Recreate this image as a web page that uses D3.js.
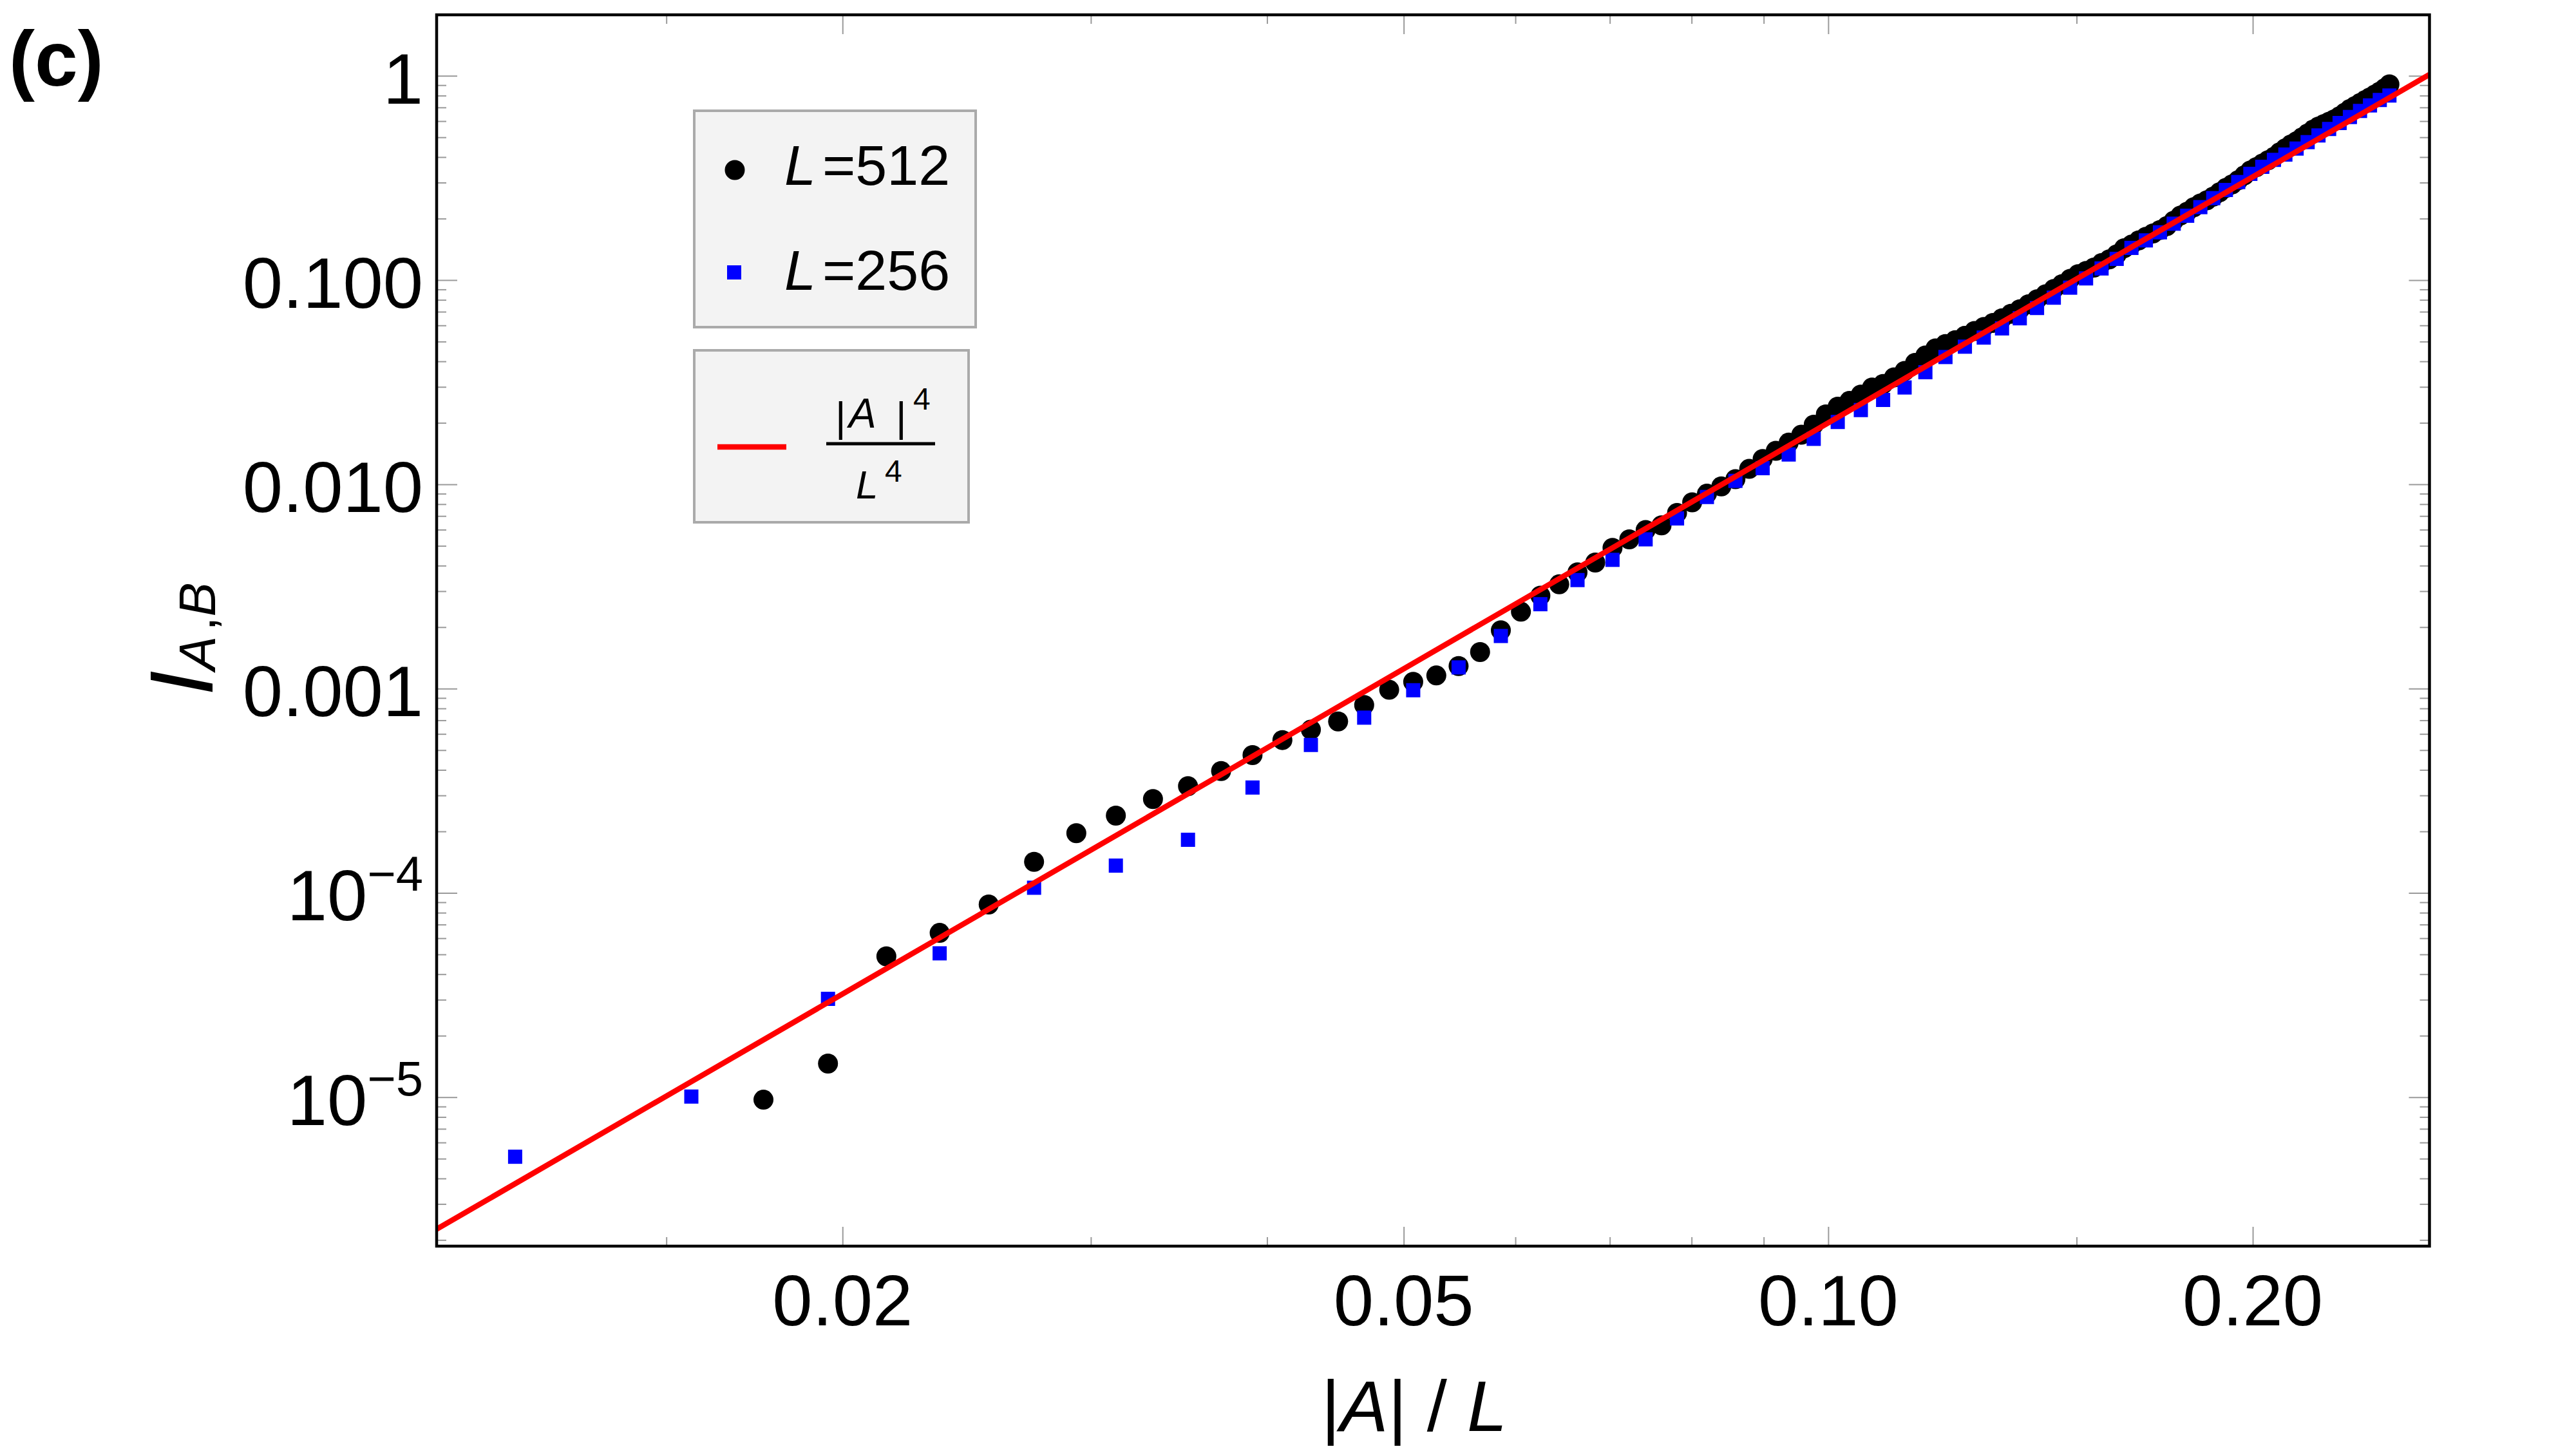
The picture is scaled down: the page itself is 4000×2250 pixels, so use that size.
<!DOCTYPE html>
<html>
<head>
<meta charset="utf-8">
<script src="https://cdn.jsdelivr.net/npm/d3@7"></script>
<style>
  html, body { margin: 0; padding: 0; background: #fff; }
  svg { display: block; font-family: "Liberation Sans", Arial, Helvetica, sans-serif; }
</style>
</head>
<body>
<svg id="chart" width="4000" height="2250"></svg>
<script>
// ---- data ----
const L512 = 512;
const L256 = 256;

// subsystem sizes |A| for L=512 and the measured I_{A,B}
const sizes512 = [9,10,11,12,13,14,15,16,17,18,19,20,21,22,23,24,25,26,27,28,29,30,31,32,33,34,35,36,37,38,
  39,40,41,42,43,44,45,46,47,48,49,50,51,52,53,54,55,56,57,58,59,60,61,62,63,64,65,66,67,68,
  69,70,71,72,73,74,75,76,77,78,79,80,81,82,83,84,85,86,87,88,89,90,91,92,93,94,95,96,97,98,
  99,100,101,102,103,104,105,106,107,108,109,110,111,112,113,114,115,116,117,118,119,120,121,122,123,124,125,126,127,128];
const vals512 = [9.72e-6,1.46e-5,4.89e-5,6.37e-5,8.77e-5,1.42e-4,1.96e-4,2.39e-4,2.88e-4,3.33e-4,
  3.95e-4,4.73e-4,5.60e-4,6.30e-4,6.91e-4,8.31e-4,9.87e-4,1.08e-3,1.16e-3,1.29e-3,
  1.51e-3,1.93e-3,2.38e-3,2.85e-3,3.24e-3,3.71e-3,4.14e-3,4.89e-3,5.38e-3,5.98e-3,
  6.30e-3,7.25e-3,8.17e-3,9.00e-3,9.77e-3,0.0106,0.0119,0.0133,0.0146,0.0160,
  0.0175,0.0196,0.0220,0.0240,0.0256,0.0275,0.0298,0.0310,0.0334,0.0359,
  0.0393,0.0427,0.0463,0.0486,0.0508,0.0533,0.0563,0.0589,0.0617,0.0650,
  0.0684,0.0719,0.0761,0.0805,0.0851,0.0905,0.0955,0.1014,0.1068,0.1109,
  0.1151,0.1210,0.1262,0.1336,0.1432,0.1491,0.1563,0.1627,0.1692,0.1758,
  0.1839,0.1952,0.2070,0.2162,0.2273,0.2372,0.2458,0.2563,0.2690,0.2824,
  0.2941,0.3085,0.3256,0.3437,0.3574,0.3715,0.3860,0.4009,0.4223,0.4415,
  0.4614,0.4785,0.4997,0.5221,0.5448,0.5643,0.5803,0.5960,0.6125,0.6337,
  0.6601,0.6880,0.7112,0.7350,0.7594,0.7844,0.8100,0.8363,0.8692,0.9078];

// subsystem sizes |A| for L=256
const sizes256 = [3,4,5,6,7,8,9,10,11,12,13,14,15,16,17,18,19,20,21,22,23,24,25,26,27,28,29,30,31,32,
  33,34,35,36,37,38,39,40,41,42,43,44,45,46,47,48,49,50,51,52,53,54,55,56,57,58,59,60,61,62,63,64];
const vals256 = [5.11e-6,1.007e-5,3.03e-5,5.06e-5,1.06e-4,1.36e-4,1.82e-4,3.28e-4,5.30e-4,7.21e-4,
  9.82e-4,1.27e-3,1.81e-3,2.59e-3,3.40e-3,4.27e-3,5.38e-3,6.81e-3,8.67e-3,0.0104,
  0.0120,0.0140,0.0167,0.0202,0.0231,0.0259,0.0298,0.0354,0.0420,0.0472,
  0.0523,0.0580,0.0650,0.0730,0.0820,0.0918,0.1019,0.1140,0.1270,0.1437,
  0.1564,0.1713,0.1888,0.2065,0.2275,0.2518,0.2761,0.3019,0.3311,0.3585,
  0.3876,0.4115,0.4403,0.4734,0.5105,0.5491,0.5873,0.6284,0.6728,0.7161,
  0.7613,0.8007];

// red reference line  y = c * (|A|/L)^4
const fitPrefactor = 200;

// ticks
const xMajor = [0.02, 0.05, 0.1, 0.2];
const xMajorLabels = ["0.02", "0.05", "0.10", "0.20"];
const xMinor = [0.015, 0.03, 0.04, 0.06, 0.07, 0.08, 0.09, 0.15];
const yMajor = [1, 0.1, 0.01, 0.001, 1e-4, 1e-5];
const yMajorLabels = ["1", "0.100", "0.010", "0.001", "10^-4", "10^-5"];

// ---- layout ----
const svg = d3.select("#chart");
const pLeft = 678, pRight = 3772.5, pTop = 23, pBottom = 1935;
const fontMain = 112;

const x = d3.scaleLog().domain([0.010309, 0.2669]).range([pLeft, pRight]);
const y = d3.scaleLog().domain([1.8655e-6, 1.9883]).range([pBottom, pTop]);

const pts512 = sizes512.map((a, i) => ({ x: a / L512, y: vals512[i] }));
const pts256 = sizes256.map((a, i) => ({ x: a / L256, y: vals256[i] }));

svg.append("defs").append("clipPath").attr("id", "plotClip")
  .append("rect").attr("x", pLeft).attr("y", pTop)
  .attr("width", pRight - pLeft).attr("height", pBottom - pTop);

// ---- ticks (all four sides, pointing inwards) ----
const yMinor = y.ticks().filter(v => !yMajor.some(m => Math.abs(m - v) / m < 1e-6));

function tickGroup(axis, transform, values, size) {
  const g = svg.append("g").attr("transform", transform)
    .call(axis.tickValues(values).tickSizeInner(-size).tickSizeOuter(0).tickFormat(""));
  g.select(".domain").remove();
  g.selectAll(".tick line").attr("stroke", "#9a9a9a").attr("stroke-width", 2);
}
tickGroup(d3.axisBottom(x), `translate(0,${pBottom})`, xMajor, 30);
tickGroup(d3.axisBottom(x), `translate(0,${pBottom})`, xMinor, 14);
tickGroup(d3.axisTop(x), `translate(0,${pTop})`, xMajor, 30);
tickGroup(d3.axisTop(x), `translate(0,${pTop})`, xMinor, 14);
tickGroup(d3.axisLeft(y), `translate(${pLeft},0)`, yMajor, 32);
tickGroup(d3.axisLeft(y), `translate(${pLeft},0)`, yMinor, 15);
tickGroup(d3.axisRight(y), `translate(${pRight},0)`, yMajor, 32);
tickGroup(d3.axisRight(y), `translate(${pRight},0)`, yMinor, 15);

// ---- data marks ----
const plot = svg.append("g").attr("clip-path", "url(#plotClip)");

plot.append("g").selectAll("circle")
  .data(pts512).enter().append("circle")
  .attr("cx", d => x(d.x)).attr("cy", d => y(d.y))
  .attr("r", 15.5).attr("fill", "#000");

const sq = 22;
plot.append("g").selectAll("rect")
  .data(pts256).enter().append("rect")
  .attr("x", d => x(d.x) - sq / 2).attr("y", d => y(d.y) - sq / 2)
  .attr("width", sq).attr("height", sq).attr("fill", "#0000ff");

const lineData = x.domain().map(v => ({ x: v, y: fitPrefactor * Math.pow(v, 4) }));
plot.append("path")
  .datum(lineData)
  .attr("d", d3.line().x(d => x(d.x)).y(d => y(d.y)))
  .attr("fill", "none").attr("stroke", "#ff0000").attr("stroke-width", 8.5);

// frame
svg.append("rect")
  .attr("x", pLeft).attr("y", pTop).attr("width", pRight - pLeft).attr("height", pBottom - pTop)
  .attr("fill", "none").attr("stroke", "#000").attr("stroke-width", 4.5);

// ---- tick labels ----
svg.append("g").selectAll("text")
  .data(xMajor).enter().append("text")
  .attr("x", d => x(d)).attr("y", 2058)
  .attr("text-anchor", "middle").attr("font-size", fontMain)
  .text((d, i) => xMajorLabels[i]);

const yl = svg.append("g").selectAll("text")
  .data(yMajor).enter().append("text")
  .attr("x", 657).attr("y", d => y(d) + 43)
  .attr("text-anchor", "end").attr("font-size", fontMain);
yl.each(function (d, i) {
  const lab = yMajorLabels[i];
  const t = d3.select(this);
  if (lab.includes("^")) {
    const [base, ex] = lab.split("^");
    t.append("tspan").text(base);
    t.append("tspan").attr("dy", -46).attr("font-size", 76).text(ex.replace("-", "\u2212"));
  } else {
    t.text(lab);
  }
});

// ---- axis titles ----
const xt = svg.append("text")
  .attr("x", 2196).attr("y", 2222)
  .attr("text-anchor", "middle").attr("font-size", fontMain);
xt.append("tspan").text("|");
xt.append("tspan").attr("font-style", "italic").text("A");
xt.append("tspan").text("| / ");
xt.append("tspan").attr("font-style", "italic").text("L");

const yt = svg.append("text")
  .attr("transform", "translate(330,992) rotate(-90)")
  .attr("text-anchor", "middle");
yt.append("tspan").attr("font-size", 140).attr("font-style", "italic").text("I");
yt.append("tspan").attr("font-size", 80).attr("font-style", "italic").attr("dy", 4).text("A");
yt.append("tspan").attr("font-size", 80).attr("dx", 8).text(",");
yt.append("tspan").attr("font-size", 80).attr("font-style", "italic").text("B");

// panel tag
svg.append("text").attr("x", 14).attr("y", 133)
  .attr("font-size", 120).attr("font-weight", "bold").text("(c)");

// ---- legends ----
const leg = svg.append("g");
leg.append("rect").attr("x", 1078).attr("y", 172).attr("width", 437).attr("height", 336)
  .attr("fill", "#f3f3f3").attr("stroke", "#aaaaaa").attr("stroke-width", 4);
leg.append("rect").attr("x", 1078).attr("y", 544).attr("width", 426).attr("height", 267)
  .attr("fill", "#f3f3f3").attr("stroke", "#aaaaaa").attr("stroke-width", 4);

leg.append("circle").attr("cx", 1141).attr("cy", 264).attr("r", 15.5).attr("fill", "#000");
leg.append("rect").attr("x", 1129).attr("y", 412).attr("width", sq).attr("height", sq).attr("fill", "#0000ff");

[[L512, 287], [L256, 450]].forEach(([lv, by]) => {
  const t = leg.append("text").attr("x", 1218).attr("y", by).attr("font-size", 88);
  t.append("tspan").attr("font-style", "italic").text("L");
  t.append("tspan").attr("dx", 10).text("=" + lv);
});

leg.append("line").attr("x1", 1114).attr("x2", 1221).attr("y1", 694).attr("y2", 694)
  .attr("stroke", "#ff0000").attr("stroke-width", 8.5);

// fraction |A|^4 / L^4
leg.append("text").attr("x", 1297).attr("y", 670).attr("font-size", 64).text("|");
leg.append("text").attr("x", 1318).attr("y", 664).attr("font-size", 64).attr("font-style", "italic").text("A");
leg.append("text").attr("x", 1391).attr("y", 670).attr("font-size", 64).text("|");
leg.append("text").attr("x", 1418).attr("y", 636).attr("font-size", 48).text("4");
leg.append("line").attr("x1", 1283).attr("x2", 1452).attr("y1", 689).attr("y2", 689)
  .attr("stroke", "#000").attr("stroke-width", 5);
leg.append("text").attr("x", 1329).attr("y", 774).attr("font-size", 62).attr("font-style", "italic").text("L");
leg.append("text").attr("x", 1374).attr("y", 748).attr("font-size", 48).text("4");
</script>
</body>
</html>
